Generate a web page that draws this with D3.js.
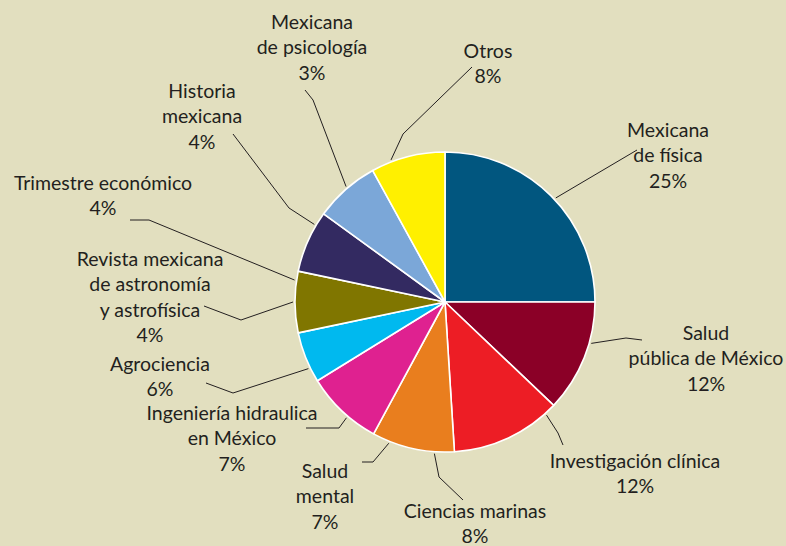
<!DOCTYPE html>
<html>
<head>
<meta charset="utf-8">
<script src="https://cdn.jsdelivr.net/npm/d3@7"></script>
<style>
  body { margin: 0; background: #e2dfbf; }
  svg { display: block; }
  .lbl { font-family: Lato, "Open Sans", sans-serif; font-size: 19.5px; fill: #231f20; }
</style>
</head>
<body>
<div id="chart"></div>
<script>
// slices of the pie, clockwise from 12 o'clock (shares)
var sliceNames = ["Mexicana de física", "Salud pública de México", "Investigación clínica",
  "Ciencias marinas", "Ingeniería hidraulica en México", "Agrociencia",
  "Revista mexicana de astronomía y astrofísica", "Historia mexicana",
  "Mexicana de psicología", "Otros"];
var sliceShares = [25, 12.1, 11.9, 8.9, 8.3, 5.5, 6.6, 6.7, 7, 8];
var sliceColors = ["#01567f", "#8b0027", "#ed1d25", "#e97e1e", "#df2190",
  "#00b9ef", "#807600", "#332a61", "#7ba7d8", "#fff000"];

// labels as printed, with their percentages
var labelLines = [
  ["Mexicana", "de física"],
  ["Salud", "pública de México"],
  ["Investigación clínica"],
  ["Ciencias marinas"],
  ["Salud", "mental"],
  ["Ingeniería hidraulica", "en México"],
  ["Agrociencia"],
  ["Revista mexicana", "de astronomía", "y astrofísica"],
  ["Trimestre económico"],
  ["Historia", "mexicana"],
  ["Mexicana", "de psicología"],
  ["Otros"]
];
var labelPcts = [25, 12, 12, 8, 7, 7, 6, 4, 4, 4, 3, 8];

// layout of the labels: text centre/first baseline, leader anchor angle on the pie, leader path
var labelPos = [[668, 137], [706, 340], [635, 468], [475, 518], [325, 478], [232, 420],
  [160, 371], [150, 266], [103, 190], [202, 98], [312, 29], [488, 58]];
var leaderAngle = [46.8, 105.8, 138.1, 184, 201.7, 220.4, 244, 270, 278.3, 300.7, 319.4, 339.2];
var leaderPts = [
  [[637, 150]],
  [[626, 338], [642, 340]],
  [[558, 433], [563, 445]],
  [[439, 477], [463, 500]],
  [[373, 462], [362, 462]],
  [[339, 428], [306, 428]],
  [[233, 393], [206, 383]],
  [[241, 320], [204, 306]],
  [[149, 220], [130, 220]],
  [[289, 208], [233, 134]],
  [[313, 100], [305, 90]],
  [[403, 134], [472, 67]]
];

var width = 786, height = 546;
var cx = 445, cy = 302, radius = 150;

var svg = d3.select("#chart")
  .append("svg")
    .attr("width", width)
    .attr("height", height);

svg.append("rect")
  .attr("width", width)
  .attr("height", height)
  .attr("fill", "#e2dfbf");

var pie = d3.pie().sort(null).value(function(d) { return d; });
var arc = d3.arc().innerRadius(0).outerRadius(radius);

var g = svg.append("g")
  .attr("transform", "translate(" + cx + "," + cy + ")");

g.selectAll("path.slice")
  .data(pie(sliceShares))
  .enter().append("path")
    .attr("class", "slice")
    .attr("d", arc)
    .attr("fill", function(d, i) { return sliceColors[i]; })
    .attr("stroke", "#ffffff")
    .attr("stroke-width", 1.6)
    .attr("stroke-linejoin", "round")
  .append("title")
    .text(function(d, i) { return sliceNames[i]; });

// leader lines
var line = d3.line();
leaderPts.forEach(function(pts, i) {
  var p = d3.pointRadial(leaderAngle[i] * Math.PI / 180, radius + 2);
  var all = [[cx + p[0], cy + p[1]]].concat(pts);
  svg.append("path")
    .attr("d", line(all))
    .attr("fill", "none")
    .attr("stroke", "#231f20")
    .attr("stroke-width", 1);
});

// labels
labelLines.forEach(function(lines, i) {
  var t = svg.append("text")
    .attr("class", "lbl")
    .attr("text-anchor", "middle")
    .attr("x", labelPos[i][0])
    .attr("y", labelPos[i][1]);
  lines.concat([labelPcts[i] + "%"]).forEach(function(s, j) {
    t.append("tspan")
      .attr("x", labelPos[i][0])
      .attr("dy", j == 0 ? 0 : 25.3)
      .text(s);
  });
});
</script>
</body>
</html>
